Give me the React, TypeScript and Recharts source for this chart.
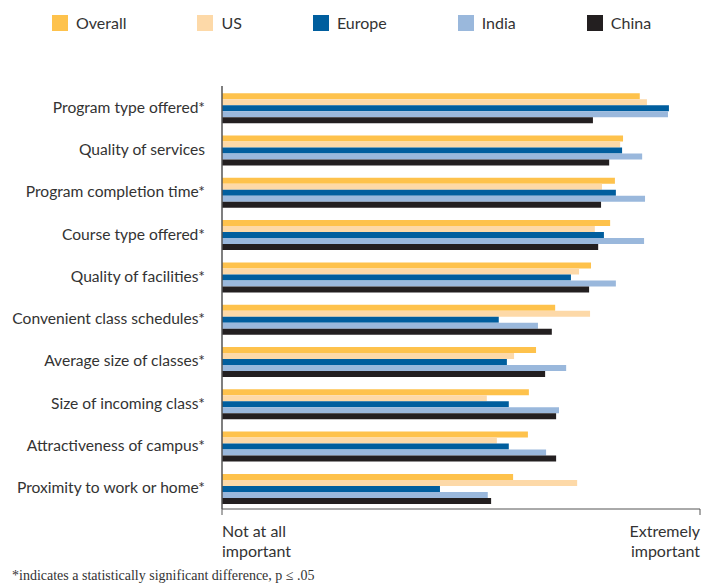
import { BarChart, Bar, XAxis, YAxis } from 'recharts'

const categories = [
  'Program type offered*',
  'Quality of services',
  'Program completion time*',
  'Course type offered*',
  'Quality of facilities*',
  'Convenient class schedules*',
  'Average size of classes*',
  'Size of incoming class*',
  'Attractiveness of campus*',
  'Proximity to work or home*',
]

const overall = [87.4, 83.9, 82.2, 81.2, 77.2, 69.7, 65.7, 64.2, 64.0, 60.9]
const us = [88.9, 83.3, 79.5, 78.0, 74.7, 77.0, 61.1, 55.4, 57.5, 74.3]
const europe = [93.5, 83.7, 82.4, 79.9, 73.0, 57.9, 59.6, 60.0, 60.0, 45.6]
const india = [93.3, 87.9, 88.5, 88.3, 82.4, 66.1, 72.0, 70.5, 67.8, 55.6]
const china = [77.6, 81.0, 79.3, 78.7, 76.8, 69.0, 67.6, 69.9, 69.9, 56.3]

const series = [
  { key: 'overall', name: 'Overall', color: '#FEC24C', values: overall },
  { key: 'us', name: 'US', color: '#FDD9A8', values: us },
  { key: 'europe', name: 'Europe', color: '#005E9E', values: europe },
  { key: 'india', name: 'India', color: '#9AB8DC', values: india },
  { key: 'china', name: 'China', color: '#231F20', values: china },
]

const scaleLabels = ['Not at all|important', 'Extremely|important']

const data = categories.map((name, i) => {
  const row: Record<string, string | number> = { name }
  series.forEach((s) => {
    row[s.key] = s.values[i]
  })
  return row
})

const FONT = 'Lato, "Open Sans", sans-serif'
const TEXT = '#333'

function ScaleTick(props: any) {
  const { x, y, payload } = props
  const first = payload.value === 0
  const lines = (first ? scaleLabels[0] : scaleLabels[1]).split('|')
  return (
    <text
      x={x}
      y={y + 20}
      textAnchor={first ? 'start' : 'end'}
      fill={TEXT}
      fontSize={16}
      fontFamily={FONT}
    >
      {lines.map((l, i) => (
        <tspan key={i} x={x} dy={i === 0 ? 0 : 20}>
          {l}
        </tspan>
      ))}
    </text>
  )
}

export default function App() {
  return (
    <div style={{ position: 'absolute', left: 0, top: 0, width: 707, height: 588, background: '#fff' }}>
      <div
        style={{
          position: 'absolute',
          left: 52,
          top: 13,
          display: 'flex',
          gap: 71,
          fontFamily: FONT,
          fontSize: 16,
          color: TEXT,
        }}
      >
        {series.map((s) => (
          <div key={s.key} style={{ display: 'flex', alignItems: 'center' }}>
            <span style={{ width: 16, height: 16, background: s.color, marginRight: 8, display: 'inline-block' }} />
            <span>{s.name}</span>
          </div>
        ))}
      </div>
      <BarChart
        width={707}
        height={588}
        data={data}
        layout="vertical"
        margin={{ top: 86, right: 7, bottom: 19, left: 0 }}
        barCategoryGap="17%"
        barGap={0}
      >
        <XAxis
          type="number"
          domain={[0, 100]}
          ticks={[0, 100]}
          height={60}
          axisLine={{ stroke: '#555' }}
          tickLine={{ stroke: '#555' }}
          tickSize={6}
          tick={<ScaleTick />}
          interval={0}
        />
        <YAxis
          type="category"
          dataKey="name"
          width={222}
          axisLine={{ stroke: '#555', strokeWidth: 1.5 }}
          tickLine={false}
          tickSize={0}
          tickMargin={17}
          interval={0}
          tick={{ fill: TEXT, fontSize: 15.6, fontFamily: FONT }}
        />
        {series.map((s) => (
          <Bar key={s.key} dataKey={s.key} name={s.name} fill={s.color} isAnimationActive={false} />
        ))}
      </BarChart>
      <div
        style={{
          position: 'absolute',
          left: 12,
          top: 568,
          fontFamily: '"Liberation Serif", "DejaVu Serif", serif',
          fontSize: 14,
          color: TEXT,
        }}
      >
        *indicates a statistically significant difference, p ≤ .05
      </div>
    </div>
  )
}
